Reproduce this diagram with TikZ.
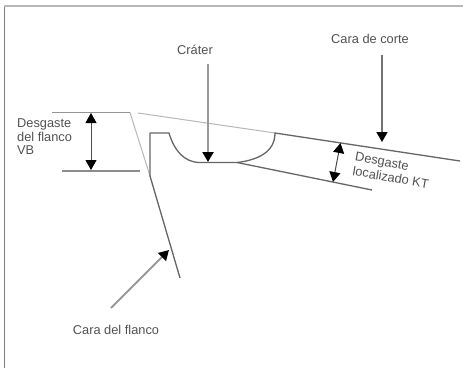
\documentclass[tikz,border=0pt]{standalone}
\usepackage{fontspec}
\setmainfont{Liberation Sans}
\usetikzlibrary{arrows.meta}
\tikzset{
  lbl/.style={font=\fontsize{12.8}{13}\selectfont,text=black!68,inner sep=0pt},
  edge/.style={draw=black!60,line width=1.3pt},
  faint/.style={draw=black!28,line width=1pt},
  shaft/.style={draw=black!40,line width=2pt,-{Triangle[length=10pt,width=11pt,color=black]}},
  dim/.style={draw=black!70,line width=1pt,{Triangle[length=10pt,width=11pt,color=black]}-{Triangle[length=10pt,width=11pt,color=black]}}
}
\begin{document}
\begin{tikzpicture}[x=1pt,y=-1pt]
\useasboundingbox (0,0) rectangle (463,368);
\fill[white] (0,0) rectangle (463,368);
\draw[black!50,line width=0.9pt] (4.5,6) -- (4.5,368);
\draw[black!28,line width=2pt] (4,5.5) -- (463,5.5);
% named points
\coordinate (tl) at (52,112.5);
\coordinate (tc) at (130,112.5);
\coordinate (fl) at (180,278);
\coordinate (ll) at (62,171);
\coordinate (lr) at (140,171);
\coordinate (ia) at (150,176);
\coordinate (ib) at (150,133);
\coordinate (ic) at (169,133);
\coordinate (cb) at (200,162.5);
\coordinate (cc) at (237,162.5);
\coordinate (cd) at (275,133);
\coordinate (re) at (460,161);
\coordinate (ke) at (372,190);
\coordinate (fa) at (138,113);
% wear profile
\draw[edge,draw=black!42,line width=1.6pt] (tl) -- (tc);
\draw[faint] (tc) -- (ia);
\draw[edge] (ia) -- (fl);
\draw[edge,draw=black!45] (ll) -- (lr);
\draw[faint] (fa) -- (cd);
\draw[edge,line join=round] (ia) -- (ib) -- (ic) .. controls (174,150) and (184,162.5) .. (cb) -- (cc) .. controls (258,160) and (275,152) .. (cd) -- (re);
\draw[edge] (cc) -- (ke);
% arrows
\coordinate (a1s) at (208,64);
\coordinate (a1e) at (208,162);
\coordinate (a2s) at (382,55);
\coordinate (a2e) at (382,142);
\coordinate (a3s) at (91,113);
\coordinate (a3e) at (91,170);
\coordinate (a4s) at (340.5,143);
\coordinate (a4e) at (333,182);
\coordinate (a5s) at (111,308);
\coordinate (a5e) at (169,250);
\draw[shaft] (a1s) -- (a1e);
\draw[shaft,draw=black!55,line width=1.6pt] (a2s) -- (a2e);
\draw[dim] (a3s) -- (a3e);
\draw[dim] (a4s) -- (a4e);
\draw[shaft] (a5s) -- (a5e);
% labels
\node[lbl] (crater) at (195,50) {Cráter};
\node[lbl] (corte) at (370,39) {Cara de corte};
\node[lbl,anchor=west] (vb1) at (17,124) {Desgaste};
\node[lbl,anchor=west] (vb2) at (17,137) {del flanco};
\node[lbl,anchor=west] (vb3) at (17,150) {VB};
\node[lbl,rotate=-10,align=left] (kt) at (392,170.5) {Desgaste\\[1.5pt]localizado KT};
\node[lbl] (flanco) at (116,330) {Cara del flanco};
\end{tikzpicture}
\end{document}
